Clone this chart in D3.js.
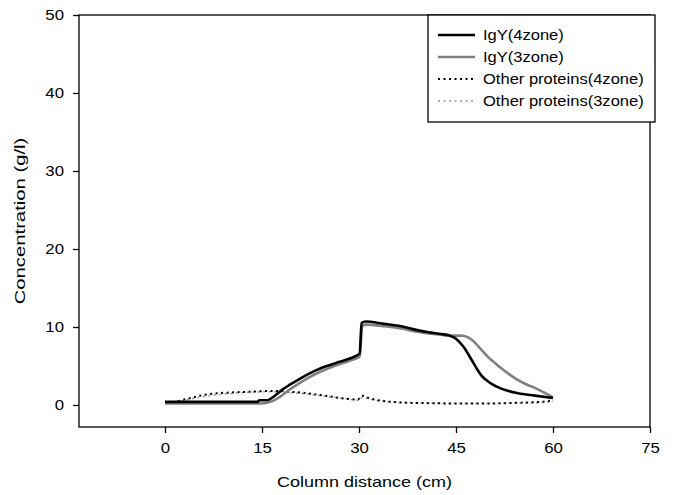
<!DOCTYPE html>
<html>
<head>
<meta charset="utf-8">
<script src="https://cdn.jsdelivr.net/npm/d3@7"></script>
<style>
  html, body { margin: 0; padding: 0; background: #fff; }
  svg { display: block; }
  text { font-family: "Liberation Sans", Arial, sans-serif; fill: #000; }
</style>
</head>
<body>
<svg id="chart" width="674" height="495"></svg>
<script>
// Axis ticks
const xTicks = [0, 15, 30, 45, 60, 75];
const yTicks = [0, 10, 20, 30, 40, 50];

// IgY, 4-zone column
const distIgY4 = [0, 5, 10, 14.3, 14.6, 15.8, 16.5, 17.3, 18.2, 19.3, 20.5, 22, 23.5, 25, 26.5, 28, 29.3, 30.1, 30.4, 31, 33.9, 36.5, 39, 41, 42.7, 44, 44.8, 45.5, 46.3, 47.4, 48.9, 50.5, 52, 54.6, 57.2, 60];
const igY4 = [0.4, 0.4, 0.4, 0.4, 0.6, 0.6, 0.9, 1.4, 2.0, 2.6, 3.2, 3.9, 4.5, 5.0, 5.4, 5.8, 6.2, 6.6, 10.5, 10.7, 10.4, 10.1, 9.6, 9.3, 9.1, 8.9, 8.6, 8.1, 7.3, 5.8, 3.8, 2.7, 2.1, 1.5, 1.2, 0.9];

// IgY, 3-zone column
const distIgY3 = [0, 5, 10, 15, 15.8, 16.6, 17.5, 18.5, 19.5, 20.8, 22.2, 23.6, 25, 26.5, 28, 29.3, 30.1, 30.5, 31, 33.9, 36.5, 39, 42.7, 44, 45.8, 46.8, 47.8, 48.8, 49.9, 51, 52, 53.3, 54.6, 56, 57.2, 58.6, 60];
const igY3 = [0.2, 0.2, 0.2, 0.2, 0.3, 0.5, 0.9, 1.5, 2.1, 2.8, 3.5, 4.1, 4.6, 5.1, 5.5, 5.9, 6.2, 10.1, 10.3, 10.1, 9.8, 9.4, 9.0, 8.9, 8.9, 8.7, 8.1, 7.2, 6.2, 5.4, 4.7, 3.9, 3.2, 2.6, 2.2, 1.6, 1.0];

// Other proteins, 4-zone column
const distOther4 = [2, 4, 6, 8, 10, 13, 16, 17.5, 19, 21, 23, 25.5, 28, 29.8, 30.5, 31.5, 33, 35, 37, 40, 45, 50, 55, 58, 60];
const other4 = [0.5, 0.9, 1.3, 1.5, 1.6, 1.7, 1.8, 1.8, 1.7, 1.6, 1.4, 1.1, 0.8, 0.7, 1.2, 0.9, 0.6, 0.4, 0.3, 0.25, 0.2, 0.2, 0.3, 0.4, 0.6];

// Other proteins, 3-zone column
const distOther3 = [0, 3, 6, 9, 12, 16, 19, 22, 25, 28, 30, 30.6, 32, 35, 40, 45, 50, 55, 58, 60];
const other3 = [0.2, 0.6, 1.1, 1.4, 1.6, 1.7, 1.6, 1.4, 1.1, 0.8, 0.6, 1.0, 0.7, 0.4, 0.25, 0.2, 0.2, 0.25, 0.3, 0.5];

const seriesNames = ["IgY(4zone)", "IgY(3zone)", "Other proteins(4zone)", "Other proteins(3zone)"];

const series = [
  { name: seriesNames[0], x: distIgY4, y: igY4, color: "#000", width: 2.6, dash: null },
  { name: seriesNames[1], x: distIgY3, y: igY3, color: "#808080", width: 2.6, dash: null },
  { name: seriesNames[2], x: distOther4, y: other4, color: "#000", width: 2, dash: "2,3.5" },
  { name: seriesNames[3], x: distOther3, y: other3, color: "#909090", width: 1.5, dash: "2,3.5" }
];

const svg = d3.select("#chart");
const plotL = 79, plotR = 650, plotT = 15, plotB = 427;

const x = d3.scaleLinear().domain([-13.3, 75]).range([plotL, plotR]);
const y = d3.scaleLinear().domain([-2.82, 50]).range([plotB, plotT]);

// stretch a text element along its run
function stretch(sel, k) {
  sel.each(function () {
    const w = this.getComputedTextLength();
    d3.select(this).attr("textLength", w * k).attr("lengthAdjust", "spacingAndGlyphs");
  });
}

// frame
svg.append("rect")
  .attr("x", plotL).attr("y", plotT)
  .attr("width", plotR - plotL).attr("height", plotB - plotT)
  .attr("fill", "none").attr("stroke", "#000").attr("stroke-width", 1.3);

// x axis
const xAxis = svg.append("g")
  .attr("transform", `translate(0,${plotB})`)
  .call(d3.axisBottom(x).tickValues(xTicks).tickSize(6).tickPadding(10).tickFormat(d3.format("d")));
xAxis.select(".domain").remove();
xAxis.selectAll("line").attr("stroke", "#000").attr("stroke-width", 1.3);
xAxis.selectAll("text").attr("font-size", 14).attr("font-family", "Liberation Sans, Arial, sans-serif").call(stretch, 1.2);

// y axis
const yAxis = svg.append("g")
  .attr("transform", `translate(${plotL},0)`)
  .call(d3.axisLeft(y).tickValues(yTicks).tickSize(6).tickPadding(9).tickFormat(d3.format("d")));
yAxis.select(".domain").remove();
yAxis.selectAll("line").attr("stroke", "#000").attr("stroke-width", 1.3);
yAxis.selectAll("text").attr("font-size", 14).attr("font-family", "Liberation Sans, Arial, sans-serif").call(stretch, 1.2);

// axis titles
svg.append("text")
  .attr("x", (plotL + plotR) / 2).attr("y", 487)
  .attr("text-anchor", "middle").attr("font-size", 15)
  .text("Column distance (cm)").call(stretch, 1.2);

svg.append("text")
  .attr("transform", `translate(25,${(plotT + plotB) / 2}) rotate(-90)`)
  .attr("text-anchor", "middle").attr("font-size", 15)
  .text("Concentration (g/l)").call(stretch, 1.35);

// curves
const line = d3.line()
  .x(d => x(d[0]))
  .y(d => y(d[1]))
  .curve(d3.curveMonotoneX);

series.slice().reverse().forEach(s => {
  const pts = s.x.map((v, i) => [v, s.y[i]]);
  svg.append("path")
    .datum(pts)
    .attr("d", line)
    .attr("fill", "none")
    .attr("stroke", s.color)
    .attr("stroke-width", s.width)
    .attr("stroke-dasharray", s.dash)
    .attr("stroke-linejoin", "round");
});

// legend
const lg = svg.append("g");
lg.append("rect")
  .attr("x", 428).attr("y", plotT)
  .attr("width", 227).attr("height", 107)
  .attr("fill", "#fff").attr("stroke", "#000").attr("stroke-width", 1.3);
series.forEach((s, i) => {
  const cy = 35 + i * 22;
  lg.append("line")
    .attr("x1", 438).attr("x2", 475).attr("y1", cy).attr("y2", cy)
    .attr("stroke", s.color).attr("stroke-width", s.width)
    .attr("stroke-dasharray", s.dash);
  lg.append("text")
    .attr("x", 483).attr("y", cy).attr("dy", "0.35em")
    .attr("font-size", 14)
    .text(s.name).call(stretch, 1.18);
});
</script>
</body>
</html>
